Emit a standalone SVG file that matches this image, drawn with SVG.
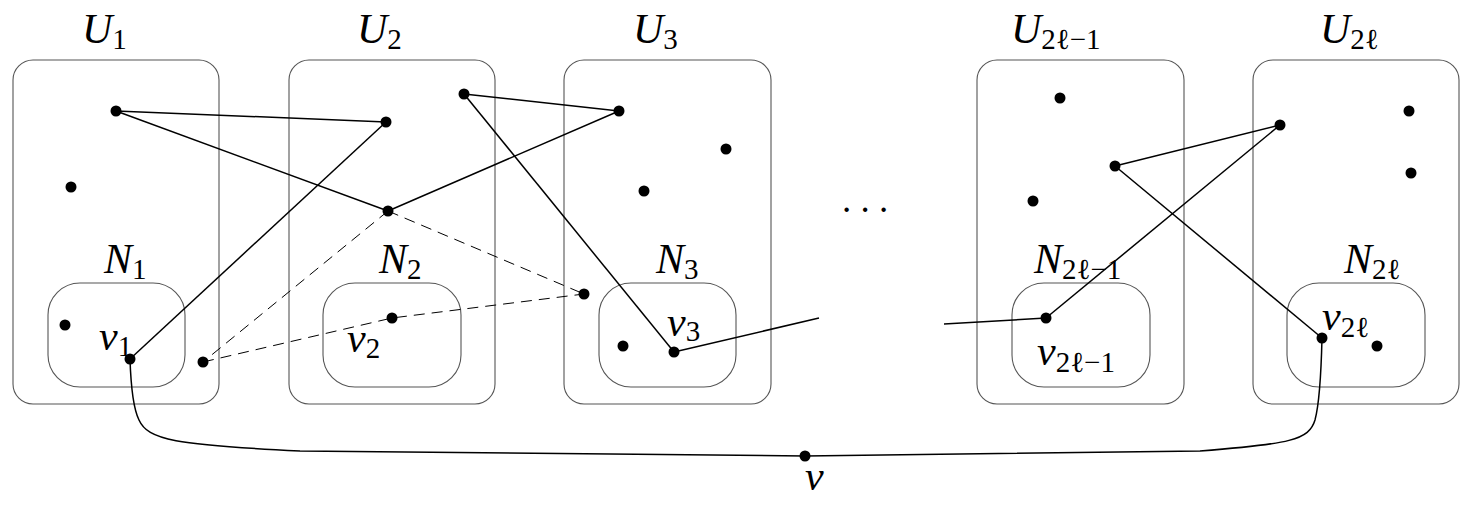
<svg xmlns="http://www.w3.org/2000/svg" width="1475" height="506" viewBox="0 0 1475 506" font-family="Liberation Serif, Times New Roman, DejaVu Serif, serif">
<style>
.ub{fill:none;stroke:#555;stroke-width:1.1}
.nb{fill:none;stroke:#555;stroke-width:1.1}
.e{fill:none;stroke:#000;stroke-width:1.5}
.d{fill:none;stroke:#000;stroke-width:1;stroke-dasharray:11 7}
.dot{fill:#000}
.m{font-family:"Liberation Serif","Times New Roman","DejaVu Serif",serif;font-style:italic;font-size:42px;fill:#000}
.s{font-style:normal;font-size:29px}
</style>
<rect width="1475" height="506" fill="#fff"/>
<g id="U1">
<rect class="ub" x="13" y="60" width="206" height="344" rx="20"/>
<text class="m" x="82" y="43">U<tspan class="s" dy="6">1</tspan></text>
</g>
<g id="N1">
<rect class="nb" x="48" y="283" width="137" height="104" rx="32"/>
<text class="m" x="104" y="273">N<tspan class="s" dy="6">1</tspan></text>
</g>
<g id="U2">
<rect class="ub" x="289" y="60" width="206" height="344" rx="20"/>
<text class="m" x="357" y="43">U<tspan class="s" dy="6">2</tspan></text>
</g>
<g id="N2">
<rect class="nb" x="323" y="283" width="138" height="104" rx="32"/>
<text class="m" x="379" y="273">N<tspan class="s" dy="6">2</tspan></text>
</g>
<g id="U3">
<rect class="ub" x="564" y="60" width="207" height="344" rx="20"/>
<text class="m" x="633" y="43">U<tspan class="s" dy="6">3</tspan></text>
</g>
<g id="N3">
<rect class="nb" x="599" y="283" width="137" height="104" rx="32"/>
<text class="m" x="656" y="273">N<tspan class="s" dy="6">3</tspan></text>
</g>
<g id="U2l-1">
<rect class="ub" x="977" y="60" width="207" height="344" rx="20"/>
<text class="m" x="1011" y="43">U<tspan class="s" dy="6">2ℓ−1</tspan></text>
</g>
<g id="N2l-1">
<rect class="nb" x="1012" y="283" width="138" height="104" rx="32"/>
<text class="m" x="1034" y="273">N<tspan class="s" dy="6">2ℓ−1</tspan></text>
</g>
<g id="U2l">
<rect class="ub" x="1253" y="60" width="206" height="344" rx="20"/>
<text class="m" x="1320" y="43">U<tspan class="s" dy="6">2ℓ</tspan></text>
</g>
<g id="N2l">
<rect class="nb" x="1287" y="283" width="138" height="104" rx="32"/>
<text class="m" x="1344" y="273">N<tspan class="s" dy="6">2ℓ</tspan></text>
</g>
<g id="connectors">
<line class="e" x1="116" y1="111" x2="386" y2="122"/>
<line class="e" x1="116" y1="111" x2="388" y2="211"/>
<line class="e" x1="388" y1="211" x2="619" y2="111"/>
<line class="e" x1="386" y1="122" x2="130" y2="359"/>
<line class="e" x1="464" y1="94" x2="619" y2="111"/>
<line class="e" x1="464" y1="94" x2="674" y2="352"/>
<line class="e" x1="674" y1="352" x2="819" y2="318"/>
<line class="e" x1="944" y1="324" x2="1046" y2="318"/>
<line class="e" x1="1046" y1="318" x2="1280" y2="125"/>
<line class="e" x1="1115" y1="166" x2="1280" y2="125"/>
<line class="e" x1="1115" y1="166" x2="1322" y2="338"/>
<line class="d" x1="388" y1="211" x2="203" y2="362"/>
<line class="d" x1="388" y1="211" x2="584" y2="294"/>
<polyline class="d" points="203,362 392,318 584,294"/>
<path class="e" d="M130,359 C131,390 134,410 139,420 C148,440 175,445 300,451 L805,456 L1200,451 C1290,444 1309,440 1315,420 C1319,405 1321,380 1322,338"/>
</g>
<g id="dots">
<circle class="dot" cx="116" cy="111" r="5.5"/>
<circle class="dot" cx="71" cy="187" r="5.5"/>
<circle class="dot" cx="65" cy="325" r="5.5"/>
<circle class="dot" cx="130" cy="359" r="5.5"/>
<circle class="dot" cx="203" cy="362" r="5.5"/>
<circle class="dot" cx="386" cy="122" r="5.5"/>
<circle class="dot" cx="388" cy="211" r="5.5"/>
<circle class="dot" cx="464" cy="94" r="5.5"/>
<circle class="dot" cx="392" cy="318" r="5.5"/>
<circle class="dot" cx="619" cy="111" r="5.5"/>
<circle class="dot" cx="726" cy="149" r="5.5"/>
<circle class="dot" cx="644" cy="191" r="5.5"/>
<circle class="dot" cx="584" cy="294" r="5.5"/>
<circle class="dot" cx="623" cy="346" r="5.5"/>
<circle class="dot" cx="674" cy="352" r="5.5"/>
<circle class="dot" cx="1060" cy="98" r="5.5"/>
<circle class="dot" cx="1033" cy="201" r="5.5"/>
<circle class="dot" cx="1115" cy="166" r="5.5"/>
<circle class="dot" cx="1046" cy="318" r="5.5"/>
<circle class="dot" cx="1280" cy="125" r="5.5"/>
<circle class="dot" cx="1409" cy="111" r="5.5"/>
<circle class="dot" cx="1411" cy="173" r="5.5"/>
<circle class="dot" cx="1322" cy="338" r="5.5"/>
<circle class="dot" cx="1377" cy="346" r="5.5"/>
<circle class="dot" cx="805" cy="456" r="5.5"/>
</g>
<g id="labels">
<text class="m" x="99" y="350">v<tspan class="s" dy="6">1</tspan></text>
<text class="m" x="347" y="352">v<tspan class="s" dy="6">2</tspan></text>
<text class="m" x="667" y="336">v<tspan class="s" dy="5">3</tspan></text>
<text class="m" x="1037" y="365">v<tspan class="s" dy="7">2ℓ−1</tspan></text>
<text class="m" x="1322" y="330">v<tspan class="s" dy="7">2ℓ</tspan></text>
<text class="m" x="805" y="490">v</text>
<text x="842" y="212" font-size="37">. . .</text>
</g>
</svg>
